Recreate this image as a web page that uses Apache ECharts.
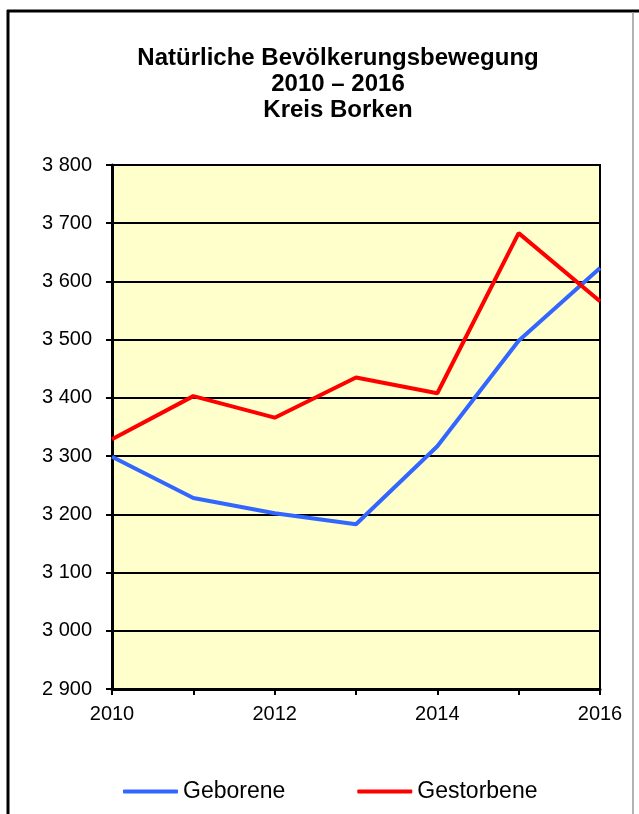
<!DOCTYPE html>
<html>
<head>
<meta charset="utf-8">
<script src="https://cdn.jsdelivr.net/npm/echarts@6/dist/echarts.min.js"></script>
<style>
  html, body { margin: 0; padding: 0; background: #fff; }
  #chart { width: 639px; height: 814px; }
</style>
</head>
<body>
<div id="chart"></div>
<script>
// Daten
var jahre = ['2010', '2011', '2012', '2013', '2014', '2015', '2016'];
var geborene = [3299, 3228, 3202, 3183, 3317, 3498, 3623];
var gestorbene = [3329, 3403, 3366, 3435, 3408, 3683, 3566];
var yMin = 2900, yMax = 3800, yStep = 100;

var font = '"Liberation Sans", Arial, sans-serif';

var chart = echarts.init(document.getElementById('chart'));

var option = {
  backgroundColor: '#fff',
  animation: false,
  title: {
    text: 'Natürliche Bevölkerungsbewegung\n2010 – 2016\nKreis Borken',
    left: 338,
    top: 45,
    padding: 0,
    textAlign: 'center',
    textStyle: {
      fontFamily: font,
      fontSize: 24,
      fontWeight: 'bold',
      lineHeight: 26,
      color: '#000'
    }
  },
  legend: {
    data: ['Geborene', 'Gestorbene'],
    left: 118,
    top: 775,
    icon: 'roundRect',
    itemWidth: 55,
    itemHeight: 4,
    itemGap: 72,
    textStyle: { fontFamily: font, fontSize: 23, color: '#000' }
  },
  grid: {
    left: 112,
    right: 39,
    top: 165,
    bottom: 125,
    show: true,
    backgroundColor: '#FFFFCC',
    borderColor: '#000',
    borderWidth: 2
  },
  xAxis: {
    type: 'category',
    data: jahre,
    boundaryGap: false,
    axisLine: { lineStyle: { color: '#000', width: 3 } },
    axisTick: { show: true, interval: 0, length: 6, lineStyle: { color: '#000', width: 2 } },
    axisLabel: { interval: 1, margin: 15, fontFamily: font, fontSize: 20, color: '#000' },
    splitLine: { show: false }
  },
  yAxis: {
    type: 'value',
    min: yMin,
    max: yMax,
    interval: yStep,
    axisLine: { show: true, lineStyle: { color: '#000', width: 3 } },
    axisTick: { show: true, length: 6, lineStyle: { color: '#000', width: 2 } },
    axisLabel: {
      margin: 20,
      fontFamily: font,
      fontSize: 20,
      color: '#000',
      formatter: function (v) {
        return String(v).replace(/\B(?=(\d{3})+(?!\d))/g, ' ');
      }
    },
    splitLine: { show: true, lineStyle: { color: '#000', width: 2 } }
  },
  series: [
    {
      name: 'Geborene',
      type: 'line',
      data: geborene,
      symbol: 'none',
      color: '#3366FF',
      lineStyle: { color: '#3366FF', width: 4 }
    },
    {
      name: 'Gestorbene',
      type: 'line',
      data: gestorbene,
      symbol: 'none',
      color: '#FF0000',
      lineStyle: { color: '#FF0000', width: 4 }
    }
  ],
  graphic: [
    { type: 'line', shape: { x1: 7, y1: 11, x2: 639, y2: 11 }, style: { stroke: '#000', lineWidth: 3 } },
    { type: 'line', shape: { x1: 8, y1: 10, x2: 8, y2: 814 }, style: { stroke: '#000', lineWidth: 3 } },
    { type: 'line', shape: { x1: 633, y1: 12, x2: 633, y2: 814 }, style: { stroke: '#999', lineWidth: 1.5 } }
  ]
};

chart.setOption(option);
</script>
</body>
</html>
